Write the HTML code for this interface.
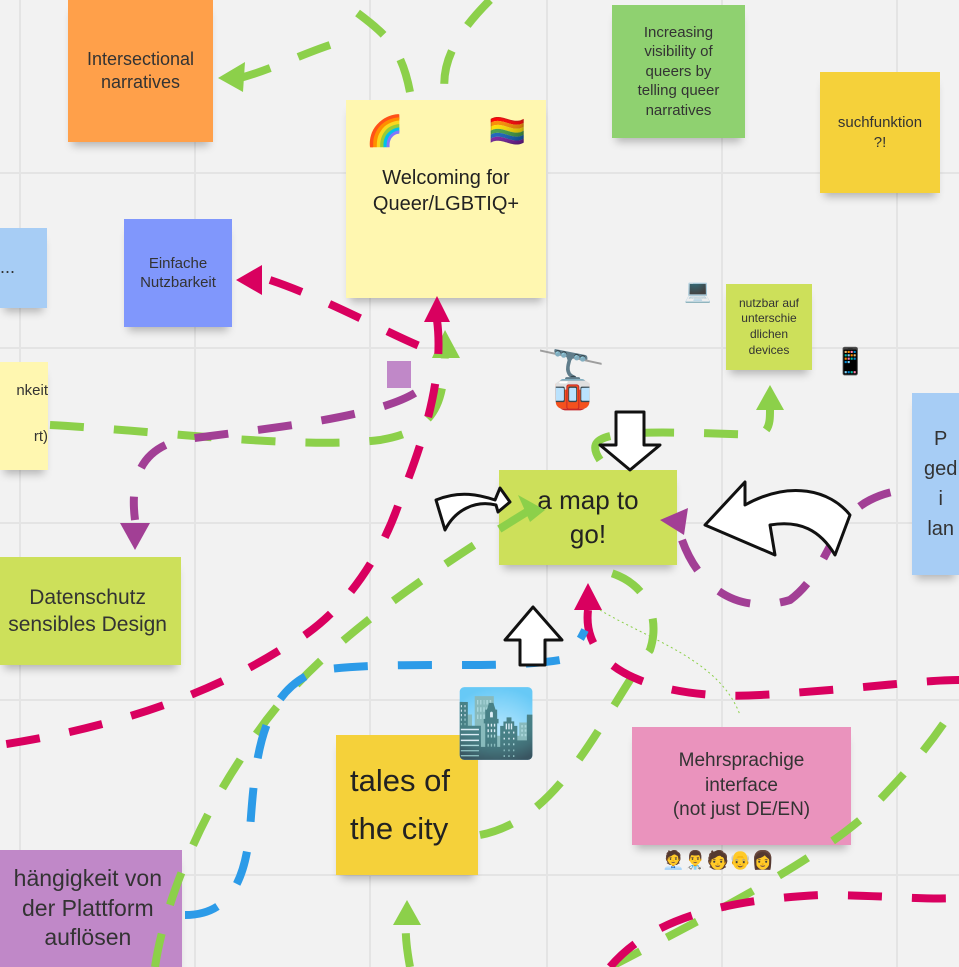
<!DOCTYPE html>
<html><head><meta charset="utf-8"><style>
body{margin:0;width:959px;height:967px;overflow:hidden;background:#f2f2f2;font-family:"Liberation Sans","DejaVu Sans",sans-serif;}
.n{position:absolute;display:flex;align-items:center;justify-content:center;text-align:center;color:#333;box-shadow:0 8px 8px -4px rgba(0,0,0,.25);line-height:1.3}
svg{position:absolute;left:0;top:0}
</style></head><body>
<svg width="959" height="967">
<g stroke="#e4e4e4" stroke-width="2">
<line x1="20" y1="0" x2="20" y2="967"/><line x1="195" y1="0" x2="195" y2="967"/><line x1="370" y1="0" x2="370" y2="967"/><line x1="547" y1="0" x2="547" y2="967"/><line x1="722" y1="0" x2="722" y2="967"/><line x1="897" y1="0" x2="897" y2="967"/>
<line x1="0" y1="173" x2="959" y2="173"/><line x1="0" y1="348" x2="959" y2="348"/><line x1="0" y1="523" x2="959" y2="523"/><line x1="0" y1="700" x2="959" y2="700"/><line x1="0" y1="875" x2="959" y2="875"/>
</g>
</svg>
<div class="n" style="left:68px;top:0;width:145px;height:142px;background:#ffa04a;font-size:18px">Intersectional<br>narratives</div>
<div class="n" style="left:346px;top:100px;width:200px;height:198px;background:#fff7b0;font-size:20px;color:#222;flex-direction:column;justify-content:flex-start"><div style="display:flex;justify-content:space-between;width:160px;font-size:30px;margin-top:12px;margin-bottom:14px"><span>🌈</span><span>🏳️‍🌈</span></div>Welcoming for<br>Queer/LGBTIQ+</div>
<div class="n" style="left:612px;top:5px;width:133px;height:133px;background:#8fd170;font-size:15px">Increasing<br>visibility of<br>queers by<br>telling queer<br>narratives</div>
<div class="n" style="left:820px;top:72px;width:120px;height:121px;background:#f5d13a;font-size:15px">suchfunktion<br>?!</div>
<div class="n" style="left:0;top:228px;width:47px;height:80px;background:#a7cdf5;font-size:18px;justify-content:flex-start">...</div>
<div class="n" style="left:124px;top:219px;width:108px;height:108px;background:#8097fc;font-size:15px">Einfache<br>Nutzbarkeit</div>
<div class="n" style="left:0;top:362px;width:48px;height:108px;background:#fff7b0;font-size:15px;justify-content:flex-end;flex-direction:column;align-items:flex-end;padding-bottom:24px;box-sizing:border-box"><div>nkeit</div><div style="height:26px"></div><div>rt)</div></div>
<div style="position:absolute;left:387px;top:361px;width:24px;height:27px;background:#c088c8"></div>
<div class="n" style="left:726px;top:284px;width:86px;height:86px;background:#cde05a;font-size:12px">nutzbar auf<br>unterschie<br>dlichen<br>devices</div>
<div class="n" style="left:912px;top:393px;width:47px;height:182px;background:#a7cdf5;font-size:20px;justify-content:flex-start;padding-left:12px;box-sizing:border-box;line-height:1.5">P<br>ged<br>i<br>lan</div>
<div class="n" style="left:499px;top:470px;width:178px;height:95px;background:#cde05a;font-size:26px;color:#222">a map to<br>go!</div>
<div class="n" style="left:0;top:557px;width:181px;height:108px;background:#cde05a;font-size:21px;justify-content:flex-end;padding-right:14px;box-sizing:border-box">Datenschutz<br>sensibles Design</div>
<div class="n" style="left:336px;top:735px;width:142px;height:140px;background:#f5d13a;font-size:31px;justify-content:flex-start;text-align:left;padding-left:14px;box-sizing:border-box;color:#222;line-height:1.55">tales of<br>the city</div>
<div class="n" style="left:632px;top:727px;width:219px;height:118px;background:#ea93bd;font-size:19px">Mehrsprachige<br>interface<br>(not just DE/EN)</div>
<div class="n" style="left:0;top:850px;width:182px;height:117px;background:#c088c8;font-size:23px;justify-content:flex-end;padding-right:20px;box-sizing:border-box">hängigkeit von<br>der Plattform<br>auflösen</div>
<div style="position:absolute;left:536px;top:352px;font-size:56px;line-height:1">🚡</div>
<div style="position:absolute;left:455px;top:690px;font-size:66px;line-height:1">🏙️</div>
<div style="position:absolute;left:684px;top:278px;font-size:22px">💻</div>
<div style="position:absolute;left:834px;top:346px;font-size:26px">📱</div>
<div style="position:absolute;left:662px;top:850px;font-size:18px">🧑‍💼👨‍⚕️🧑👴👩</div>
<svg width="959" height="967" fill="none" stroke-width="8" stroke-dasharray="34 30">
<g stroke="#8cd04a">
<path d="M490 0 C460 30,440 60,445 95"/>
<path d="M410 92 C400 40,380 30,340 0"/>
<path d="M330 45 C300 55,270 70,240 78"/>
<path d="M50 425 C150 430,300 450,380 440 C440 430,445 400,445 340"/>
<path d="M155 967 C165 900,200 820,240 760 C280 690,350 620,530 510"/>
<path d="M480 835 C560 820,600 720,650 650 C660 620,650 580,600 570"/>
<path d="M600 460 C580 430,620 430,760 435 C770 430,770 420,770 410"/>
<path d="M610 967 C700 920,800 870,860 820 C920 760,940 730,959 700"/>
<path d="M410 967 C405 940,405 925,407 915"/>
</g>
<g fill="#8cd04a" stroke="none">
<polygon points="218,78 245,62 243,92"/>
<polygon points="445,330 432,358 460,358"/>
<polygon points="770,385 756,410 784,410"/>
<polygon points="407,900 393,925 421,925"/>
<polygon points="518,495 545,510 530,522"/>
</g>
<g stroke="#d9005f">
<path d="M270 280 C330 300,400 340,430 350"/>
<path d="M437 320 C445 380,420 450,400 500 C380 560,340 620,280 650 C200 700,100 730,0 745"/>
<path d="M588 610 C580 680,680 700,760 695 C850 690,920 680,959 680"/>
<path d="M610 967 C650 920,720 900,820 895 C880 895,920 900,959 898"/>
</g>
<g fill="#d9005f" stroke="none">
<polygon points="236,280 262,265 262,295"/>
<polygon points="437,296 424,322 450,322"/>
<polygon points="588,583 574,610 602,610"/>
</g>
<g stroke="#a23f95">
<path d="M415 393 C370 420,250 430,180 440 C140 450,130 480,135 520"/>
<path d="M682 540 C700 590,740 615,790 600 C830 570,830 520,870 500 C890 490,905 490,912 490"/>
</g>
<g fill="#a23f95" stroke="none">
<polygon points="135,550 120,523 150,523"/>
<polygon points="660,520 688,508 684,535"/>
</g>
<path stroke="#2c9be8" d="M185 915 C230 915,245 880,250 830 C255 760,260 690,320 670 C400 660,500 670,560 660 C575 650,580 640,585 630"/>
<path stroke="#8cd04a" stroke-width="1" stroke-dasharray="2 3" d="M600 610 C650 640,720 660,740 715"/>
</svg>
<svg width="959" height="967" fill="#fff" stroke="#111" stroke-width="3" stroke-linejoin="round">
<path d="M616 412 L644 412 L644 445 L660 445 L630 470 L600 445 L616 445 Z"/>
<path d="M520 665 L545 665 L545 640 L562 640 L533 607 L505 640 L520 640 Z"/>
<path d="M436 500 C460 490,480 495,495 500 L500 488 L510 502 L498 512 L496 505 C475 500,455 510,445 530 Z"/>
<path d="M705 525 L745 482 L745 505 C790 480,830 490,850 515 L835 555 C820 530,800 520,770 525 L775 555 Z"/>
</svg>
</body></html>
